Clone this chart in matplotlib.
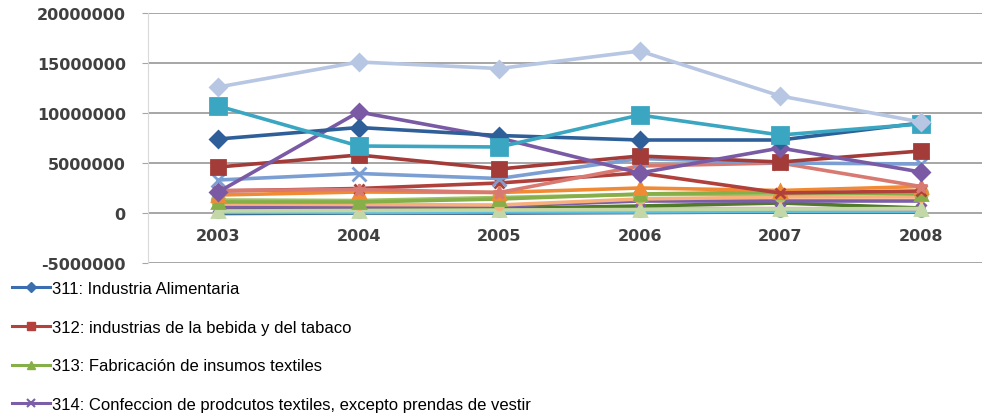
import matplotlib.pyplot as plt
from matplotlib.lines import Line2D

years = ["2003", "2004", "2005", "2006", "2007", "2008"]

# legend series (values in pesos)
s311 = [7400000, 8550000, 7750000, 7300000, 7300000, 9000000]
s312 = [4600000, 5800000, 4400000, 5700000, 5100000, 6200000]
s313 = [1100000, 1100000, 1400000, 1900000, 2100000, 1900000]
s314 = [600000, 600000, 700000, 1200000, 1200000, 1200000]

# other series (legend entries cut off in the picture)
navy = [-50000, 0, 0, 50000, 100000, 100000]
cyan = [50000, 50000, 100000, 100000, 150000, 150000]
pink = [400000, 350000, 350000, 450000, 450000, 400000]
dkgreen = [300000, 400000, 450000, 700000, 1000000, 500000]
paleg = [200000, 250000, 300000, 350000, 400000, 450000]
ltorange = [900000, 850000, 800000, 1400000, 1600000, 1600000]
ltgreen = [1300000, 1250000, 1550000, 1850000, 1900000, 2000000]
orange = [1800000, 2100000, 2050000, 2500000, 2250000, 2650000]
dkred2 = [2200000, 2450000, 3000000, 4000000, 2000000, 2200000]
salmon = [2250000, 2350000, 2050000, 4700000, 5000000, 2650000]
ltblue = [3300000, 3950000, 3450000, 5450000, 5000000, 4900000]
purple = [2100000, 10100000, 7500000, 4000000, 6500000, 4100000]
teal = [10700000, 6700000, 6600000, 9800000, 7800000, 8900000]
lavender = [12600000, 15100000, 14450000, 16200000, 11700000, 9100000]

legend_labels = ["311: Industria Alimentaria",
                 "312: industrias de la bebida y del tabaco",
                 "313: Fabricación de insumos textiles",
                 "314: Confeccion de prodcutos textiles, excepto prendas de vestir"]

fig = plt.figure(figsize=(9.82, 4.14), dpi=100)
ax = fig.add_axes([148 / 982, 1 - 264 / 414, 843 / 982, 250 / 414])

x = list(range(len(years)))
lw = 2.6

series = [
    (navy, "#2C4D75", "_", 6),
    (cyan, "#5BC0DE", "o", 6),
    (pink, "#E3AFAE", "x", 7),
    (dkgreen, "#4F7A28", "_", 6),
    (s314, "#7B5EA7", "x", 7),
    (paleg, "#C4D7A6", "^", 9),
    (ltorange, "#F8B07A", "o", 6),
    (ltgreen, "#9DC168", "o", 9),
    (s313, "#86AF49", "^", 8),
    (orange, "#F08A35", "^", 8),
    (dkred2, "#B0403C", "x", 7),
    (salmon, "#D87A72", "*", 9),
    (ltblue, "#7B9ED3", "x", 10),
    (s312, "#A33B38", "s", 10),
    (purple, "#7A5AA5", "D", 8),
    (s311, "#2F5F98", "D", 8),
    (teal, "#3AA6C1", "s", 11),
    (lavender, "#B7C6E3", "D", 8),
]
for vals, col, mk, ms in series:
    ax.plot(x, vals, color=col, lw=lw, marker=mk, ms=ms, mew=2,
            mfc=col, mec=col, solid_joinstyle="round")

ax.set_xlim(-0.5, 5.5)
ax.set_ylim(-5000000, 20000000)
ax.set_yticks(range(-5000000, 20000001, 5000000))
ax.set_yticklabels([str(v) for v in range(-5000000, 20000001, 5000000)])
ax.set_xticks(x)
ax.set_xticklabels(years)

ax.grid(axis="y", color="#A6A6A6", lw=1.4)
ax.set_axisbelow(True)
for side in ["top", "right"]:
    ax.spines[side].set_visible(False)
ax.spines["left"].set_color("#D9D9D9")
ax.spines["bottom"].set_position(("data", 0))
ax.spines["bottom"].set_visible(False)
ax.tick_params(axis="y", length=4, color="#A6A6A6", pad=12,
               labelsize=11.5, labelcolor="#404040")
ax.tick_params(axis="x", length=0, pad=11, labelsize=11.5, labelcolor="#404040")
for t in ax.get_xticklabels() + ax.get_yticklabels():
    t.set_fontweight("bold")
    t.set_family("DejaVu Sans")

handles = [
    Line2D([], [], color="#3B6DB0", lw=2.2, marker="D", ms=5),
    Line2D([], [], color="#B5413D", lw=2.2, marker="s", ms=6),
    Line2D([], [], color="#86AF49", lw=2.2, marker="^", ms=6),
    Line2D([], [], color="#7B5EA7", lw=2.2, marker="x", ms=6, mew=1.5),
]
fig.legend(handles, legend_labels, loc="upper left",
           bbox_to_anchor=(12 / 982, 1 - 282 / 414), frameon=False,
           prop={"family": "Liberation Sans", "size": 12},
           labelspacing=1.42, handlelength=2.3, handletextpad=0.12,
           borderpad=0, borderaxespad=0)

fig.savefig("out.png", dpi=100)
